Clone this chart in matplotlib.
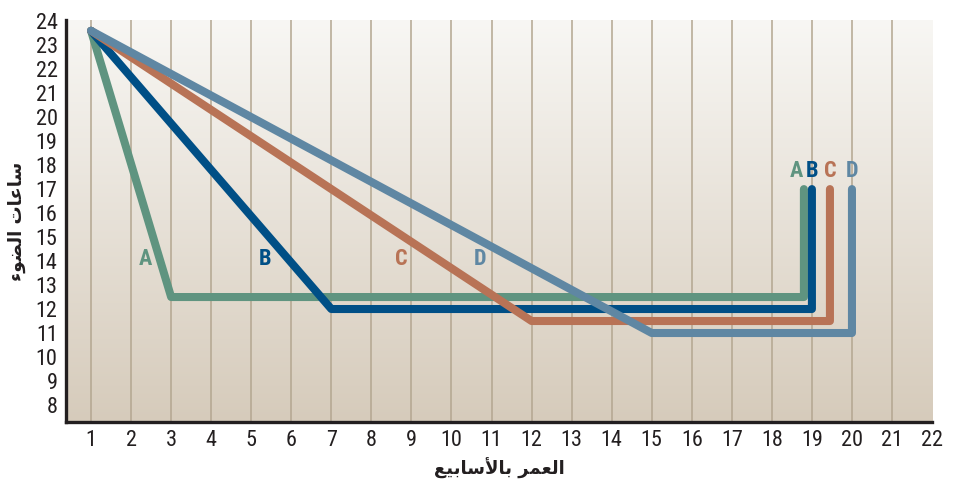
import numpy as np
import matplotlib.pyplot as plt
from matplotlib import font_manager

# data
weeks_A = [1, 3, 18.8, 18.8]
light_A = [23.6, 12.5, 12.5, 17]
weeks_B = [1, 7, 19, 19]
light_B = [23.6, 12, 12, 17]
weeks_C = [1, 12, 19.45, 19.45]
light_C = [23.6, 11.5, 11.5, 17]
weeks_D = [1, 15, 20, 20]
light_D = [23.6, 11, 11, 17]

names = ['A', 'B', 'C', 'D']
colors = ['#5f9480', '#004f86', '#b87356', '#5f87a3']
mid_label_x = [2.35, 5.35, 8.75, 10.7]
mid_label_y = 14.1
top_label_x = [18.6, 19.0, 19.45, 20.0]
top_label_y = 17.75

x_ticks = list(range(1, 23))
y_ticks = list(range(8, 25))

# Arabic text, pre-shaped into presentation forms in visual order
xlabel = '\uFECA\uFEF4\uFE91\uFE8E\uFEB3\uFEF7\uFE8E\uFE91 \uFEAE\uFEE4\uFECC\uFEDF\uFE8D'
ylabel = '\uFE80\uFEEE\uFEC0\uFEDF\uFE8D \uFE95\uFE8E\uFECB\uFE8E\uFEB3'

avail = {f.name for f in font_manager.fontManager.ttflist}


def pick(cands):
    for c in cands:
        if c in avail:
            return c
    return 'DejaVu Sans'


num_font = pick(['Roboto Condensed', 'Archivo Narrow', 'Barlow Condensed', 'Asap Condensed'])

fig = plt.figure(figsize=(9.54, 4.83), dpi=100)
ax = fig.add_axes([0.0692, 0.1263, 0.9078, 0.8323])

xmin, xmax = 0.375, 22.0
ymin, ymax = 7.29, 24.05

# background gradient, light at top, tan at bottom
grad = np.linspace(0, 1, 256).reshape(-1, 1)
top_c = np.array([248, 247, 244]) / 255
bot_c = np.array([214, 203, 187]) / 255
img = top_c + (bot_c - top_c) * grad[:, :, None]
ax.imshow(img, extent=[xmin, xmax, ymin, ymax], aspect='auto', origin='upper', zorder=0)

for x in range(1, 22):
    ax.axvline(x, color='#b3a690', lw=1.1, zorder=1)

series = [(weeks_A, light_A), (weeks_B, light_B), (weeks_C, light_C), (weeks_D, light_D)]
for (xs, ys), c in zip(series, colors):
    ax.plot(xs, ys, color=c, lw=5.8, solid_capstyle='round', solid_joinstyle='round', zorder=3)

for n, c, mx, tx in zip(names, colors, mid_label_x, top_label_x):
    ax.text(mx, mid_label_y, n, color=c, fontsize=16, fontweight='bold', family=num_font,
            ha='center', va='center', zorder=4)
    ax.text(tx, top_label_y, n, color=c, fontsize=16, fontweight='bold', family=num_font,
            ha='center', va='center', zorder=4)

ax.set_xlim(xmin, xmax)
ax.set_ylim(ymin, ymax)
ax.set_xticks(x_ticks)
ax.set_yticks(y_ticks)
ax.tick_params(length=0, labelsize=16, pad=6)
for lab in ax.get_xticklabels() + ax.get_yticklabels():
    lab.set_family(num_font)
    lab.set_color('#231f20')

for s in ['top', 'right']:
    ax.spines[s].set_visible(False)
for s in ['left', 'bottom']:
    ax.spines[s].set_linewidth(2.4)
    ax.spines[s].set_color('#231f20')
    ax.spines[s].set_zorder(5)

ax.set_xlabel(xlabel, fontsize=13, fontweight='bold', family='DejaVu Sans', labelpad=5,
              color='#231f20')
ax.set_ylabel(ylabel, fontsize=13, fontweight='bold', family='DejaVu Sans', labelpad=7,
              color='#231f20')

fig.savefig('out.png', dpi=100)
